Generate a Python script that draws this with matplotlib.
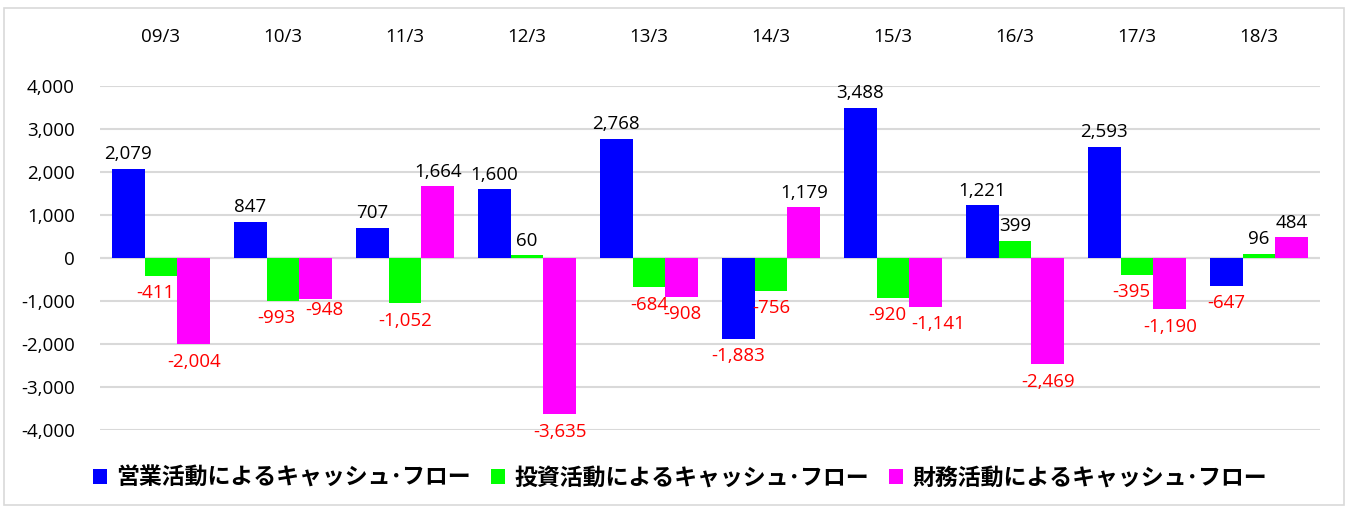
import matplotlib
matplotlib.use("Agg")
import matplotlib.pyplot as plt
from matplotlib.patches import Rectangle
import numpy as np

categories = ["09/3", "10/3", "11/3", "12/3", "13/3", "14/3", "15/3", "16/3", "17/3", "18/3"]
series_names = ["営業活動によるキャッシュ･フロー", "投資活動によるキャッシュ･フロー", "財務活動によるキャッシュ･フロー"]
operating = [2079, 847, 707, 1600, 2768, -1883, 3488, 1221, 2593, -647]
investing = [-411, -993, -1052, 60, -684, -756, -920, 399, -395, 96]
financing = [-2004, -948, 1664, -3635, -908, 1179, -1141, -2469, -1190, 484]
colors = ["#0000FF", "#00FF00", "#FF00FF"]
yticks = [-4000, -3000, -2000, -1000, 0, 1000, 2000, 3000, 4000]

# label nudges (pixels) to avoid overlaps, as in the reference: (series, category) -> (dx, dy)
label_nudge = {(1, 1): (-7, 0), (2, 1): (8, 6), (1, 6): (-6, 0), (2, 6): (12, 0),
               (1, 0): (-6, 0), (1, 8): (-6, 0)}

plt.rcParams['font.family'] = ['Open Sans', 'Noto Sans CJK JP', 'DejaVu Sans']

fig = plt.figure(figsize=(13.48, 5.09), dpi=100)
fig.patches.append(Rectangle((4/1348, 4/509), 1340/1348, 497/509, transform=fig.transFigure,
                             fill=False, edgecolor="#D9D9D9", linewidth=1.2))
ax = fig.add_axes([100/1348, 1-430/509, 1220/1348, 344/509])

x = np.arange(len(categories))
w = 0.27
fs = 13.5
for i, (vals, c) in enumerate(zip([operating, investing, financing], colors)):
    xs = x + (i - 1) * w
    ax.bar(xs, vals, width=w, color=c, label=series_names[i], zorder=3)
    for j, (xx, v) in enumerate(zip(xs, vals)):
        dx, dy = label_nudge.get((i, j), (0, 0))
        dx *= 0.72
        dy *= 0.72
        if v >= 0:
            ax.annotate(f"{v:,}", (xx, v), xytext=(dx, 4 + dy), textcoords="offset points",
                        ha="center", va="bottom", fontsize=fs, color="black")
        else:
            ax.annotate(f"{v:,}", (xx, v), xytext=(dx, -6 + dy), textcoords="offset points",
                        ha="center", va="top", fontsize=fs, color="red")

ax.set_xlim(-0.5, len(categories) - 0.5)
ax.set_ylim(-4000, 4000)
ax.set_yticks(yticks)
ax.set_yticklabels([f"{t:,}" for t in yticks], fontsize=fs)
ax.set_xticks(x)
ax.set_xticklabels(categories, fontsize=fs)
ax.xaxis.tick_top()
ax.tick_params(axis="x", length=0, pad=29)
ax.tick_params(axis="y", length=0, pad=18)
ax.grid(axis="y", color="#D9D9D9", linewidth=1.5, zorder=0)
ax.axhline(0, color="#D9D9D9", linewidth=1.5, zorder=1)
for s in ax.spines.values():
    s.set_visible(False)

leg = fig.legend(loc="center", bbox_to_anchor=(680/1348, 1-478/509), ncol=3, frameon=False,
                 prop={'family': ['Noto Sans CJK JP'], 'weight': 'bold', 'size': 16.5},
                 handlelength=0.6, handleheight=0.6, handletextpad=0.4, columnspacing=0.9)

fig.savefig("out.png", dpi=100)
